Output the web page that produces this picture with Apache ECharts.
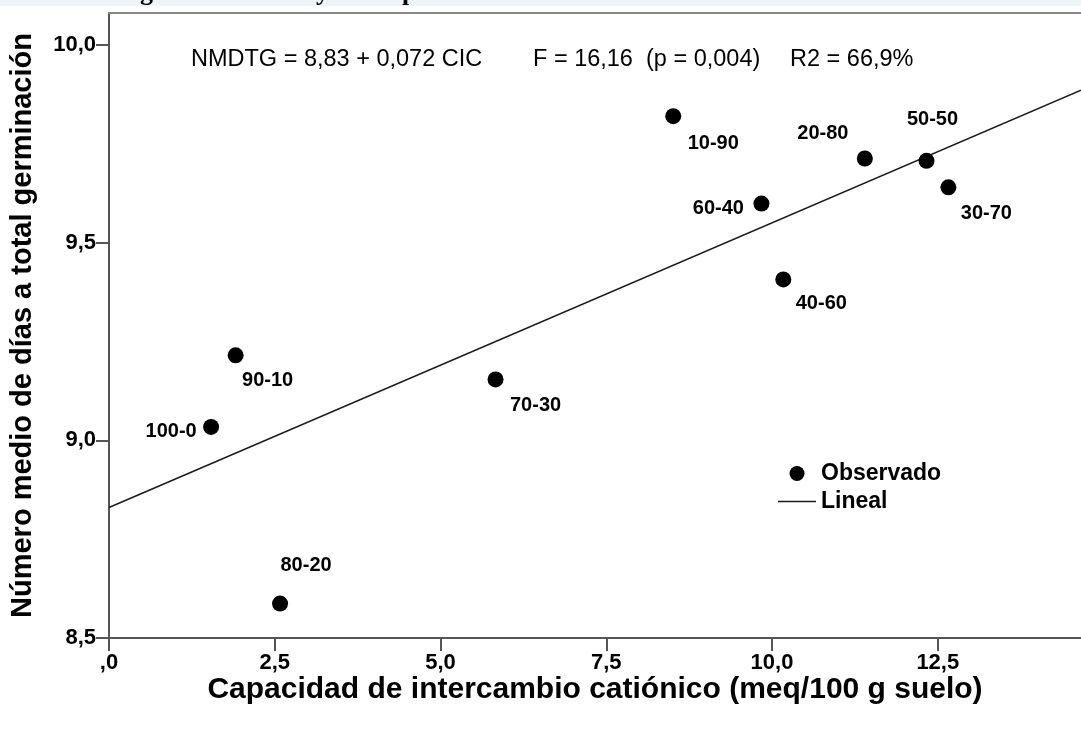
<!DOCTYPE html>
<html>
<head>
<meta charset="utf-8">
<script src="https://cdn.jsdelivr.net/npm/echarts@6/dist/echarts.min.js"></script>
<style>
  html, body { margin: 0; padding: 0; background: #ffffff; }
  #chart { width: 1081px; height: 730px; }
</style>
</head>
<body>
<div id="chart"></div>
<script>
// Soil mixture (sand-compost %) for each observation
const mixtures = ['100-0', '90-10', '80-20', '70-30', '60-40', '40-60', '10-90', '20-80', '50-50', '30-70'];
// Cation exchange capacity (meq/100 g soil)
const cicValues = [1.54, 1.91, 2.58, 5.83, 9.84, 10.17, 8.51, 11.40, 12.33, 12.66];
// Mean number of days to total germination
const nmdtgValues = [9.034, 9.215, 8.587, 9.154, 9.599, 9.407, 9.820, 9.713, 9.707, 9.640];
// Label offsets (px) from each point
const labelOffsets = [[-40, 5], [32, 25], [26, -38], [40, 26], [-43, 5], [38, 24], [40, 27], [-42, -25], [6, -41], [38, 26]];

// Linear fit reported with the model
const fitIntercept = 8.83;
const fitSlope = 0.072;

// Axis ticks and their labels
const xTicks = [0, 2.5, 5, 7.5, 10, 12.5];
const xTickLabels = [',0', '2,5', '5,0', '7,5', '10,0', '12,5'];
const yTicks = [8.5, 9, 9.5, 10];
const yTickLabels = ['8,5', '9,0', '9,5', '10,0'];

const xMin = 0, xMax = 14.66;
const yMin = 8.5, yMax = 10.081;

const FONT = '"Liberation Sans", Arial, sans-serif';
const AXIS_COLOR = '#555555';

const points = cicValues.map((x, i) => ({
  value: [x, nmdtgValues[i]],
  name: mixtures[i],
  label: { offset: labelOffsets[i] }
}));

const fitLine = [
  [xMin, fitIntercept + fitSlope * xMin],
  [xMax, fitIntercept + fitSlope * xMax]
];

// Legend glyph for the fitted line: a thin horizontal bar inside a 38x15 box
const lineIcon = 'path://M0,0L0.01,0L0,0.01Z M0,6.8L38,6.8L38,8.2L0,8.2Z M38,15L37.99,15L38,14.99Z';

const chart = echarts.init(document.getElementById('chart'), null, { renderer: 'canvas' });

chart.setOption({
  backgroundColor: '#ffffff',
  animation: false,
  grid: { left: 108, right: 0, top: 13, bottom: 92, containLabel: false },
  xAxis: [{
    type: 'value',
    min: xMin,
    max: xMax,
    name: 'Capacidad de intercambio catiónico (meq/100 g suelo)',
    nameLocation: 'middle',
    nameGap: 37,
    nameMoveOverlap: false,
    nameTextStyle: { fontFamily: FONT, fontWeight: 'bold', fontSize: 30, color: '#000' },
    axisLine: { show: true, lineStyle: { color: AXIS_COLOR, width: 2 } },
    axisTick: { show: true, length: 13, inside: false, customValues: xTicks, lineStyle: { color: AXIS_COLOR, width: 2 } },
    axisLabel: {
      customValues: xTicks,
      margin: 14,
      fontFamily: FONT, fontWeight: 'bold', fontSize: 22, color: '#000',
      formatter: v => xTickLabels[xTicks.indexOf(v)] ?? ''
    },
    splitLine: { show: false }
  }, {
    type: 'value',
    position: 'top',
    min: xMin,
    max: xMax,
    axisLine: { show: true, onZero: false, lineStyle: { color: '#888888', width: 2 } },
    axisTick: { show: false },
    axisLabel: { show: false },
    splitLine: { show: false }
  }],
  yAxis: {
    type: 'value',
    min: yMin,
    max: yMax,
    name: 'Número medio de días a total germinación',
    nameLocation: 'middle',
    nameGap: 72,
    nameTextStyle: { fontFamily: FONT, fontWeight: 'bold', fontSize: 29, color: '#000' },
    axisLine: { show: true, lineStyle: { color: AXIS_COLOR, width: 2 } },
    axisTick: { show: true, length: 13, customValues: yTicks, lineStyle: { color: AXIS_COLOR, width: 2 } },
    axisLabel: {
      customValues: yTicks,
      margin: 13,
      fontFamily: FONT, fontWeight: 'bold', fontSize: 22, color: '#000',
      formatter: v => yTickLabels[yTicks.indexOf(v)] ?? ''
    },
    splitLine: { show: false }
  },
  legend: {
    orient: 'vertical',
    left: 773,
    top: 457,
    itemWidth: 38,
    itemHeight: 15,
    itemGap: 5,
    textStyle: { fontFamily: FONT, fontWeight: 'bold', fontSize: 23, color: '#000' },
    data: [
      { name: 'Observado', icon: 'circle', itemStyle: { color: '#000', opacity: 1 } },
      { name: 'Lineal', icon: lineIcon, itemStyle: { color: '#1a1a1a', opacity: 1 } }
    ]
  },
  graphic: [
    { type: 'rect', left: 0, top: 0, shape: { width: 1081, height: 6 }, style: { fill: '#eef5f8' }, silent: true },
    { type: 'text', x: 140, y: -20, style: { text: 'g', font: 'bold 26px "Liberation Serif", serif', fill: '#000', textVerticalAlign: 'top' } },
    { type: 'text', x: 316, y: -20, style: { text: 'y', font: 'bold 26px "Liberation Serif", serif', fill: '#000', textVerticalAlign: 'top' } },
    { type: 'text', x: 402, y: -20, style: { text: 'p', font: 'bold 26px "Liberation Serif", serif', fill: '#000', textVerticalAlign: 'top' } },
    { type: 'text', x: 191, y: 60, style: { text: 'NMDTG = 8,83 + 0,072 CIC', font: '23.5px ' + FONT, fill: '#000', textVerticalAlign: 'middle' } },
    { type: 'text', x: 533, y: 60, style: { text: 'F = 16,16  (p = 0,004)', font: '23.5px ' + FONT, fill: '#000', textVerticalAlign: 'middle' } },
    { type: 'text', x: 790, y: 60, style: { text: 'R2 = 66,9%', font: '23.5px ' + FONT, fill: '#000', textVerticalAlign: 'middle' } }
  ],
  series: [{
    name: 'Observado',
    type: 'scatter',
    symbol: 'circle',
    symbolSize: 16,
    itemStyle: { color: '#000000', opacity: 1 },
    label: {
      show: true,
      position: 'inside',
      formatter: p => p.name,
      fontFamily: FONT, fontWeight: 'bold', fontSize: 20, color: '#000', opacity: 1
    },
    emphasis: { disabled: true },
    data: points,
    z: 3
  }, {
    name: 'Lineal',
    type: 'line',
    symbol: 'none',
    showSymbol: false,
    lineStyle: { color: '#1a1a1a', width: 1.5 },
    itemStyle: { color: '#1a1a1a' },
    data: fitLine,
    z: 2
  }]
});
</script>
</body>
</html>
